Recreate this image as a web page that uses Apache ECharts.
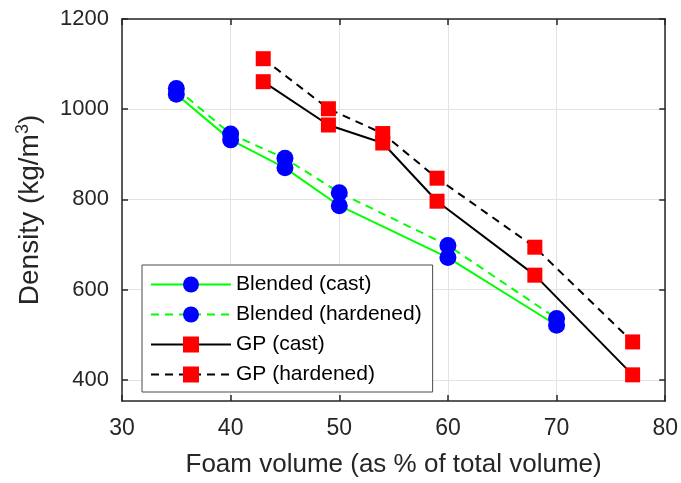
<!DOCTYPE html>
<html>
<head>
<meta charset="utf-8">
<script src="https://cdn.jsdelivr.net/npm/echarts@6/dist/echarts.min.js"></script>
<style>html,body{margin:0;padding:0;background:#fff;}#c{width:681px;height:483px;}</style>
</head>
<body>
<div id="c"></div>
<script>
// ---- data ----
const blendedX = [35, 40, 45, 50, 60, 70];
const blendedCast = [1033, 932, 870, 786, 671, 521];
const blendedHardened = [1046, 945, 891, 815, 698, 536];
const gpX = [43, 49, 54, 59, 68, 77];
const gpCast = [1061, 965, 925, 796, 632, 411];
const gpHardened = [1112, 1001, 946, 847, 694, 484];
const xTicks = [30, 40, 50, 60, 70, 80];
const yTicks = [400, 600, 800, 1000, 1200];
const seriesNames = ['Blended (cast)', 'Blended (hardened)', 'GP (cast)', 'GP (hardened)'];

const FONT = 'Liberation Sans, Arial, Helvetica, sans-serif';
const AX = '#262626';
const zip = (xs, ys) => xs.map((x, i) => [x, ys[i]]);

const chart = echarts.init(document.getElementById('c'), null, {renderer: 'canvas'});

const xCommon = {
  type: 'value', min: 30, max: 80, interval: 10,
  axisLine: {show: true, onZero: false, lineStyle: {color: AX, width: 1.5}},
  axisTick: {show: true, inside: true, length: 6, lineStyle: {color: AX, width: 1.5}},
};
const yCommon = {
  type: 'value', min: 353, max: 1200,
  axisLine: {show: true, onZero: false, lineStyle: {color: AX, width: 1.5}},
  axisTick: {show: true, inside: true, length: 6, customValues: yTicks, lineStyle: {color: AX, width: 1.5}},
};

const option = {
  animation: false,
  backgroundColor: '#ffffff',
  textStyle: {fontFamily: FONT},
  grid: {left: 122, right: 14, top: 19, bottom: 77, containLabel: false},
  xAxis: [
    Object.assign({}, xCommon, {
      position: 'bottom',
      name: 'Foam volume (as % of total volume)',
      nameLocation: 'middle', nameGap: 51,
      nameTextStyle: {fontSize: 26, color: AX, fontFamily: FONT},
      axisLabel: {show: true, fontSize: 23, color: AX, margin: 16, fontFamily: FONT,
        formatter: v => String(v)},
      splitLine: {show: true, lineStyle: {color: '#e3e3e3', width: 1}},
    }),
    Object.assign({}, xCommon, {
      position: 'top',
      axisLabel: {show: false},
      splitLine: {show: false},
    })
  ],
  yAxis: [
    Object.assign({}, yCommon, {
      position: 'left',
      name: 'Density (kg/m{sup|3})',
      nameLocation: 'middle', nameGap: 76,
      nameTextStyle: {fontSize: 28, color: AX, fontFamily: FONT,
        rich: {sup: {fontSize: 18, color: AX, fontFamily: FONT, verticalAlign: 'bottom', padding: [0, 0, 14, 0]}}},
      axisLabel: {show: true, fontSize: 22, color: AX, margin: 13, customValues: yTicks, fontFamily: FONT,
        formatter: v => String(v)},
      splitLine: {show: true, lineStyle: {color: '#e3e3e3', width: 1}},
    }),
    Object.assign({}, yCommon, {
      position: 'right',
      axisLabel: {show: false},
      splitLine: {show: false},
    })
  ],
  legend: {
    orient: 'vertical',
    left: 142, top: 265,
    padding: [9, 11, 7, 8],
    itemWidth: 80, itemHeight: 20, itemGap: 9,
    backgroundColor: '#ffffff',
    borderColor: '#4a4a4a', borderWidth: 1,
    textStyle: {fontSize: 21, color: '#000', fontFamily: FONT},
    data: seriesNames,
  },
  series: [
    {
      name: seriesNames[0], type: 'line', data: zip(blendedX, blendedCast),
      symbol: 'circle', symbolSize: 17,
      lineStyle: {color: '#00ff00', width: 2, type: 'solid'},
      itemStyle: {color: '#0000ff'},
    },
    {
      name: seriesNames[1], type: 'line', data: zip(blendedX, blendedHardened),
      symbol: 'circle', symbolSize: 17,
      lineStyle: {color: '#00ff00', width: 2, type: [8, 6]},
      itemStyle: {color: '#0000ff'},
    },
    {
      name: seriesNames[2], type: 'line', data: zip(gpX, gpCast),
      symbol: 'rect', symbolSize: 15,
      lineStyle: {color: '#000000', width: 2, type: 'solid'},
      itemStyle: {color: '#ff0000'},
    },
    {
      name: seriesNames[3], type: 'line', data: zip(gpX, gpHardened),
      symbol: 'rect', symbolSize: 15,
      lineStyle: {color: '#000000', width: 2, type: [8, 6]},
      itemStyle: {color: '#ff0000'},
    }
  ]
};
chart.setOption(option);
</script>
</body>
</html>
